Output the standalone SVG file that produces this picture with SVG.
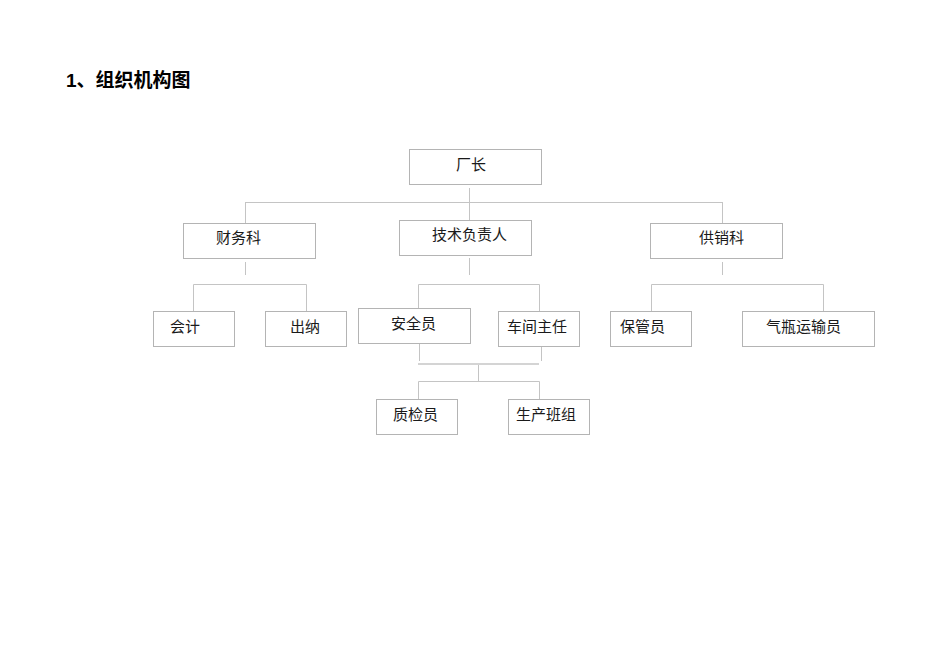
<svg xmlns="http://www.w3.org/2000/svg" width="950" height="672" viewBox="0 0 950 672">
<style>
.box{fill:#fff;stroke:#b4b4b4;stroke-width:1}
.t{font-family:"Liberation Serif","Noto Sans CJK SC",serif;font-size:15px;fill:#1a1a1a}
.ln{stroke:#c4c4c4;stroke-width:1;fill:none}
.ln2{stroke:#d4d4d4;stroke-width:2;fill:none}
.title{font-family:"Liberation Sans","Noto Sans CJK SC",sans-serif;font-size:19px;font-weight:bold;fill:#000}
</style>
<rect width="950" height="672" fill="#fff"/>
<text class="title" x="66" y="87">1、组织机构图</text>
<g id="connectors">
<path class="ln" d="M469.5,188 V220"/>
<path class="ln" d="M245,202.5 H722"/>
<path class="ln" d="M245.5,202 V223"/>
<path class="ln" d="M722.5,202 V223"/>
<path class="ln" d="M245.5,262 V275"/>
<path class="ln" d="M469.5,258 V275"/>
<path class="ln" d="M722.5,262 V275"/>
<path class="ln" d="M193.5,311 V284.5 H306.5 V311"/>
<path class="ln" d="M418.5,308 V284.5 H539.5 V311"/>
<path class="ln" d="M651.5,311 V284.5 H823.5 V311"/>
<path class="ln" d="M419.5,343 V361"/>
<path class="ln" d="M541.5,346 V361"/>
<path class="ln2" d="M418,364 H539"/>
<path class="ln" d="M478.5,365 V381"/>
<path class="ln" d="M418.5,399 V381.5 H539.5 V399"/>
</g>
<g id="n-changzhang"><rect class="box" x="409.5" y="149.5" width="132" height="35"/><text class="t" x="456" y="170">厂长</text></g>
<g id="n-caiwuke"><rect class="box" x="183.5" y="223.5" width="132" height="35"/><text class="t" x="216" y="243">财务科</text></g>
<g id="n-jishu"><rect class="box" x="399.5" y="220.5" width="132" height="35"/><text class="t" x="432" y="240">技术负责人</text></g>
<g id="n-gongxiao"><rect class="box" x="650.5" y="223.5" width="132" height="35"/><text class="t" x="699" y="243">供销科</text></g>
<g id="n-kuaiji"><rect class="box" x="153.5" y="311.5" width="81" height="35"/><text class="t" x="170" y="332">会计</text></g>
<g id="n-chuna"><rect class="box" x="265.5" y="311.5" width="81" height="35"/><text class="t" x="290" y="332">出纳</text></g>
<g id="n-anquan"><rect class="box" x="358.5" y="308.5" width="112" height="35"/><text class="t" x="391" y="329">安全员</text></g>
<g id="n-chejian"><rect class="box" x="498.5" y="311.5" width="81" height="35"/><text class="t" x="507" y="332">车间主任</text></g>
<g id="n-baoguan"><rect class="box" x="610.5" y="311.5" width="81" height="35"/><text class="t" x="620" y="332">保管员</text></g>
<g id="n-qiping"><rect class="box" x="742.5" y="311.5" width="132" height="35"/><text class="t" x="766" y="332">气瓶运输员</text></g>
<g id="n-zhijian"><rect class="box" x="376.5" y="399.5" width="81" height="35"/><text class="t" x="393" y="420">质检员</text></g>
<g id="n-shengchan"><rect class="box" x="508.5" y="399.5" width="81" height="35"/><text class="t" x="516" y="420">生产班组</text></g>
</svg>
